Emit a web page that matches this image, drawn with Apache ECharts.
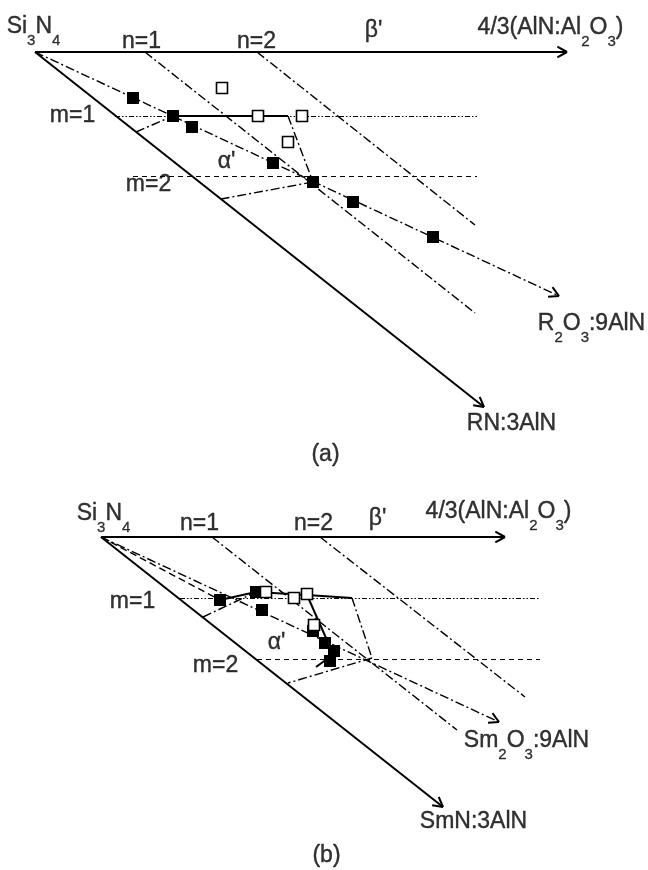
<!DOCTYPE html>
<html><head><meta charset="utf-8">
<script src="https://cdn.jsdelivr.net/npm/echarts@6/dist/echarts.min.js"></script>
<style>html,body{margin:0;padding:0;background:#fff}#c{width:648px;height:870px}</style>
</head><body><div id="c"></div>
<script>
// ---- Panel (a): composition-plane geometry (diagram units) ----
const aOrigin = [35, 52];
const aAxisEnd = [567, 52];
const aRNEnd = [484, 407];
const aR2O3End = [559, 296];
const aN1 = [[145, 52], [475, 313]];
const aN2 = [[257, 52], [475, 225]];
const aM1 = [[115, 116], [477, 116]];
const aM2 = [[133, 176], [477, 176]];
const aBoundarySolid = [[[173, 116], [288, 116]]];
const aBoundaryDash = [[[136, 132], [173, 116]], [[288, 116], [313, 182]], [[313, 182], [221, 199]]];
const aFilled = [[133, 98], [173, 116], [192, 127], [273, 163], [313, 182], [353, 202], [433, 237]];
const aOpen = [[222, 88], [258, 116], [302, 116], [288, 142]];

// ---- Panel (b) ----
const bOrigin = [101, 537];
const bAxisEnd = [505, 537];
const bRNEnd = [443, 807];
const bR2O3End = [499, 722];
const bN1 = [[212, 537], [457, 730]];
const bN2 = [[320, 537], [525, 697]];
const bM1 = [[180, 598], [540, 598]];
const bM2 = [[257, 659], [540, 659]];
const bUpperDash = [[[101, 537], [220, 600]]];
const bBoundarySolid = [[[220, 600], [256, 592]], [[256, 592], [307, 595]], [[307, 595], [352, 598]],
                        [[307, 595], [330, 647]], [[316, 667], [327, 659]]];
const bBoundaryDash = [[[203, 617], [256, 592]], [[352, 598], [372, 658]], [[372, 658], [288, 683]]];
const bFilled = [[220, 600], [256, 592], [262, 610], [313, 631], [325, 643], [334, 651], [330, 661]];
const bOpen = [[266, 592], [294, 598], [307, 594], [314, 625]];

// ---- Text labels: [rich text, centre x, top y] ----
const labelText = [
  ['{t|Si}{s|3}{t|N}{s|4}', 34, 16],
  ['{t|n=1}', 142, 31],
  ['{t|n=2}', 257, 31],
  ["{t|β'}", 374, 20],
  ['{t|4/3(AlN:Al}{s|2}{t|O}{s|3}{t|)}', 551, 17],
  ['{t|m=1}', 73, 105],
  ['{t|m=2}', 149, 174],
  ["{t|α'}", 227, 151],
  ['{t|R}{s|2}{t|O}{s|3}{t|:9AlN}', 592, 313],
  ['{t|RN:3AlN}', 512, 413],
  ['{t|(a)}', 326, 444],
  ['{t|Si}{s|3}{t|N}{s|4}', 104, 503],
  ['{t|n=1}', 200, 513],
  ['{t|n=2}', 314, 513],
  ["{t|β'}", 378, 508],
  ['{t|4/3(AlN:Al}{s|2}{t|O}{s|3}{t|)}', 499, 501],
  ['{t|m=1}', 133, 591],
  ['{t|m=2}', 216, 655],
  ["{t|α'}", 277, 632],
  ['{t|Sm}{s|2}{t|O}{s|3}{t|:9AlN}', 527, 730],
  ['{t|SmN:3AlN}', 474, 811],
  ['{t|(b)}', 327, 845]
];

// ---- helpers ----
const DASHDOT = [9, 3, 2, 3];
const DOTTED1 = [5, 2, 1.5, 2, 1.5, 2];
const DASHED2 = [5, 4];
function arrowHead(p0, p1) {
  const ang = Math.atan2(p1[1] - p0[1], p1[0] - p0[0]);
  const L = 11, spread = 0.5;
  return [
    { coords: [[p1[0] - L * Math.cos(ang - spread), p1[1] - L * Math.sin(ang - spread)], p1] },
    { coords: [[p1[0] - L * Math.cos(ang + spread), p1[1] - L * Math.sin(ang + spread)], p1] }
  ];
}
function linesSeries(segs, type, width) {
  return {
    type: 'lines', coordinateSystem: 'cartesian2d', silent: true, animation: false,
    lineStyle: { color: '#000', width: width, type: type, opacity: 1 },
    data: segs.map(s => ({ coords: s }))
  };
}
function headsSeries(pairs) {
  let d = [];
  pairs.forEach(p => { d = d.concat(arrowHead(p[0], p[1])); });
  return {
    type: 'lines', coordinateSystem: 'cartesian2d', silent: true, animation: false,
    lineStyle: { color: '#000', width: 2, type: 'solid', opacity: 1 }, data: d
  };
}

const solidSegs = [[aOrigin, aAxisEnd], [aOrigin, aRNEnd], [bOrigin, bAxisEnd], [bOrigin, bRNEnd]]
  .concat(aBoundarySolid, bBoundarySolid);
const dashDotSegs = [[aOrigin, aR2O3End], aN1, aN2, [bOrigin, bR2O3End], bN1, bN2]
  .concat(aBoundaryDash, bBoundaryDash);

const FONT = 'Liberation Sans';
const chart = echarts.init(document.getElementById('c'), null, { renderer: 'canvas' });
chart.setOption({
  backgroundColor: '#fff',
  animation: false,
  grid: { left: 0, right: 0, top: 0, bottom: 0 },
  xAxis: { type: 'value', min: 0, max: 648, show: false },
  yAxis: { type: 'value', min: 0, max: 870, inverse: true, show: false },
  series: [
    linesSeries(solidSegs, 'solid', 2),
    linesSeries(dashDotSegs, DASHDOT, 1.4),
    linesSeries(bUpperDash, [7, 4], 1.4),
    linesSeries([aM1, bM1], DOTTED1, 1.2),
    linesSeries([aM2, bM2], DASHED2, 1.2),
    headsSeries([[aOrigin, aAxisEnd], [aOrigin, aRNEnd], [aOrigin, aR2O3End], [bOrigin, bAxisEnd], [bOrigin, bRNEnd], [bOrigin, bR2O3End]]),
    {
      type: 'scatter', silent: true, animation: false, symbol: 'rect', symbolSize: 12,
      itemStyle: { color: '#000', opacity: 1 }, data: aFilled.concat(bFilled), z: 5
    },
    {
      type: 'scatter', silent: true, animation: false, symbol: 'rect', symbolSize: 11,
      itemStyle: { color: '#fff', borderColor: '#000', borderWidth: 1.6, opacity: 1 }, data: aOpen.concat(bOpen), z: 6
    },
    {
      type: 'scatter', silent: true, animation: false, symbol: 'circle', symbolSize: 1,
      itemStyle: { color: 'rgba(0,0,0,0)' }, z: 10,
      data: labelText.map(l => ({ value: [l[1], l[2]], txt: l[0] })),
      label: {
        show: true, position: [0, 0], align: 'center', verticalAlign: 'top', color: '#000',
        formatter: p => p.data.txt,
        rich: {
          t: { fontFamily: FONT, fontSize: 23, lineHeight: 26, verticalAlign: 'top', color: '#000',
               textBorderColor: '#000', textBorderWidth: 0.4 },
          s: { fontFamily: FONT, fontSize: 15, lineHeight: 50, color: '#000',
               textBorderColor: '#000', textBorderWidth: 0.3 }
        }
      }
    }
  ]
});
</script></body></html>
